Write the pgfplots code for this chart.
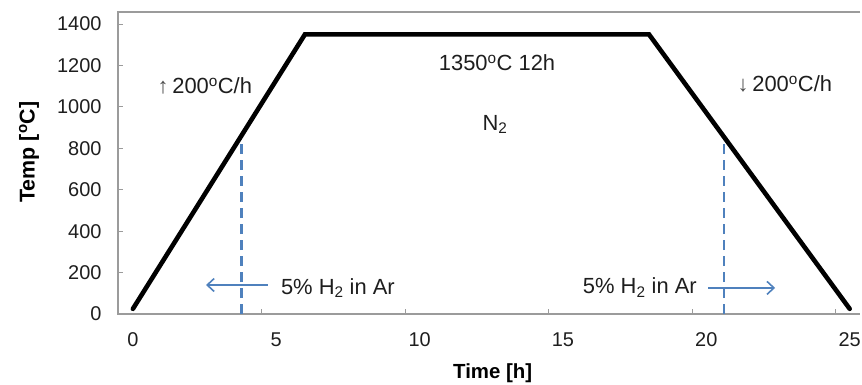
\documentclass[border=0pt]{standalone}
\usepackage{fontspec}
\setmainfont{Liberation Sans}
\usepackage{pgfplots}
\pgfplotsset{compat=1.18}
\usetikzlibrary{arrows.meta}
\definecolor{gasblue}{RGB}{79,129,189}
\definecolor{axisgrey}{RGB}{155,155,155}
\definecolor{txt}{RGB}{30,30,30}

\begin{document}
\begin{tikzpicture}
\begin{axis}[
  at={(0,0)}, anchor=south west,
  scale only axis, width=742bp, height=302bp,
  xmin=-0.52, xmax=25.36, ymin=0, ymax=1458,
  axis line style={draw=none},
  tick align=inside,
  xtick pos=bottom, ytick pos=left,
  xtick={-0.5,4.5,...,24.5},
  xticklabels={0,5,10,15,20,25},
  ytick={0,200,...,1400},
  yticklabels={0,200,400,600,800,1000,1200,1400},
  major tick length=5.5bp,
  tick style={axisgrey, line width=0.9bp},
  ticklabel style={font=\fontsize{20}{23}\selectfont, text=txt},
  xticklabel style={xshift=14.3bp, yshift=-15bp},
  yticklabel style={xshift=-13bp},
  clip=false,
]
% frame: left, top and bottom only
\draw[axisgrey, line width=1.2bp] (rel axis cs:1,1) -- (rel axis cs:0,1) -- (rel axis cs:0,0) -- (rel axis cs:1,0);

% gas switch lines
\addplot[gasblue, line width=2.6bp, dash pattern=on 10bp off 6bp] coordinates {(3.79,0) (3.79,862)};
\addplot[gasblue, line width=2.6bp, dash pattern=on 10bp off 6bp] coordinates {(20.62,0) (20.62,858)};

% heating profile
\addplot[black, line width=4.6bp, line cap=round, line join=miter] coordinates {
  (0,25) (6,1350) (18,1350) (25,25)};

% gas direction arrows
\addplot[gasblue, line width=1.6bp, -{Straight Barb[length=7bp, width=13bp, line width=1.6bp]}] coordinates {(4.71,140) (2.55,140)};
\addplot[gasblue, line width=1.6bp, -{Straight Barb[length=7bp, width=13bp, line width=1.6bp]}] coordinates {(20.06,126) (22.4,126)};

\begin{scope}[font=\fontsize{22}{26}\selectfont, text=txt]
\node at (axis cs:2.51,1101) {\textcolor{black!70}{↑}\,200\textsuperscript{o}C/h};
\node at (axis cs:22.74,1110) {\textcolor{black!70}{↓}\,200\textsuperscript{o}C/h};
\node at (axis cs:12.7,1212) {1350\textsuperscript{o}C 12h};
\node at (axis cs:12.63,915) {N\textsubscript{2}};
\node at (axis cs:7.15,125) {5\% H\textsubscript{2} in Ar};
\node at (axis cs:17.68,128) {5\% H\textsubscript{2} in Ar};
\end{scope}

% axis titles
\node[font=\fontsize{20.5}{24}\selectfont\bfseries] at ([yshift=-59bp]rel axis cs:0.505,0) {Time [h]};
\node[font=\fontsize{21.5}{25}\selectfont\bfseries, rotate=90] at ([xshift=-89bp]rel axis cs:0,0.536) {Temp [\textsuperscript{o}C]};
\end{axis}
\pgfresetboundingbox
\path (-118bp,-71bp) rectangle (744bp,314bp);
\end{tikzpicture}
\end{document}
